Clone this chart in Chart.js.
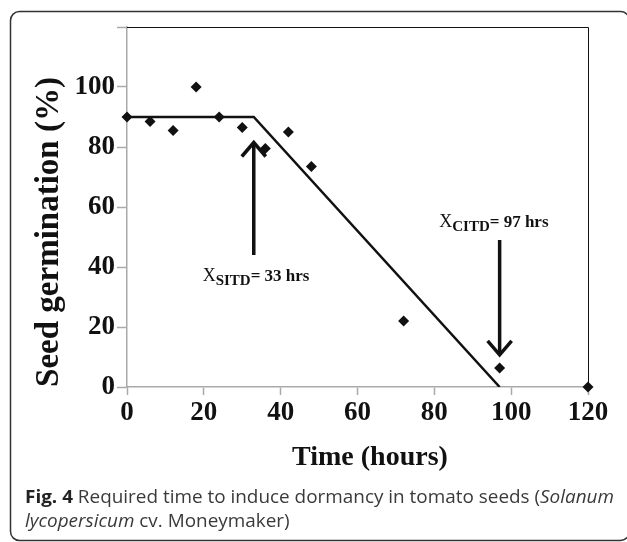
<!DOCTYPE html>
<html>
<head>
<meta charset="utf-8">
<script src="https://cdn.jsdelivr.net/npm/chart.js@4.4.0/dist/chart.umd.min.js"></script>
<style>
  html, body { margin: 0; padding: 0; background: #fff; }
  #wrap { position: relative; width: 627px; height: 542px; }
</style>
</head>
<body>
<div id="wrap"><canvas id="chart" width="627" height="542"></canvas></div>
<script>
// observed germination (%)
const hours = [0, 6, 12, 18, 24, 30, 36, 42, 48, 72, 97, 120];
const germination = [90, 88.5, 85.5, 100, 90, 86.5, 79.5, 85, 73.5, 22, 6.3, 0];

// fitted broken-line model
const fitHours = [0, 33, 97];
const fitValues = [90, 90, 0];

// axis ticks
const xTickValues = [0, 20, 40, 60, 80, 100, 120];
const yTickValues = [0, 20, 40, 60, 80, 100, 120];
const yTickHidden = [120];

// arrows + labels (data units)
const arrowX = [33, 97];
const arrowFrom = [44, 49];
const arrowTo = [81.5, 10.7];
const labelX = [33.6, 95.5];
const labelY = [35.3, 53.3];
const labelSub = ["SITD", "CITD"];
const labelRest = ["= 33 hrs", "= 97 hrs"];

const serif = '"Liberation Serif", "Times New Roman", serif';
const sans = '"Open Sans", "Noto Sans", sans-serif';

const pointData = hours.map((h, i) => ({ x: h, y: germination[i] }));
const fitData = fitHours.map((h, i) => ({ x: h, y: fitValues[i] }));

const extras = {
  id: "extras",
  beforeDraw(chart) {
    const ctx = chart.ctx;
    ctx.save();
    ctx.fillStyle = "#fff";
    ctx.fillRect(0, 0, chart.width, chart.height);
    // outer rounded frame (right side runs off the picture)
    ctx.strokeStyle = "#333";
    ctx.lineWidth = 1.5;
    ctx.beginPath();
    ctx.roundRect(10.5, 11.5, 619, 529, 9);
    ctx.stroke();
    ctx.restore();
  },
  beforeDatasetsDraw(chart) {
    const { ctx, chartArea: a } = chart;
    ctx.save();
    ctx.strokeStyle = "#111";
    ctx.lineWidth = 1;
    ctx.beginPath();
    ctx.moveTo(a.left, a.top + 0.5);
    ctx.lineTo(a.right + 0.5, a.top + 0.5);
    ctx.lineTo(a.right + 0.5, a.bottom);
    ctx.stroke();
    ctx.restore();
  },
  afterDraw(chart) {
    const { ctx } = chart;
    const xs = chart.scales.x, ys = chart.scales.y;
    ctx.save();
    ctx.fillStyle = "#111";

    // axis titles
    ctx.font = "bold 28px " + serif;
    ctx.textAlign = "center";
    ctx.textBaseline = "alphabetic";
    ctx.fillText("Time (hours)", 370, 465);

    ctx.save();
    ctx.translate(58, 232);
    ctx.rotate(-Math.PI / 2);
    ctx.font = "bold 33px " + serif;
    ctx.fillText("Seed germination (%)", 0, 0);
    ctx.restore();

    // arrows
    ctx.strokeStyle = "#111";
    ctx.lineWidth = 3.5;
    arrowX.forEach((xv, i) => {
      const px = xs.getPixelForValue(xv);
      const y0 = ys.getPixelForValue(arrowFrom[i]);
      const y1 = ys.getPixelForValue(arrowTo[i]);
      const dir = y1 < y0 ? 1 : -1;
      ctx.beginPath();
      ctx.moveTo(px, y0);
      ctx.lineTo(px, y1 + dir * 1.5);
      ctx.stroke();
      ctx.beginPath();
      ctx.moveTo(px - 12, y1 + dir * 14);
      ctx.lineTo(px, y1);
      ctx.lineTo(px + 12, y1 + dir * 14);
      ctx.stroke();
    });

    // X_SITD / X_CITD labels
    ctx.textAlign = "left";
    labelX.forEach((xv, i) => {
      const fX = "18px " + serif;
      const fS = "bold 15px " + serif;
      const fR = "bold 17px " + serif;
      ctx.font = fX; const wX = ctx.measureText("X").width;
      ctx.font = fS; const wS = ctx.measureText(labelSub[i]).width;
      ctx.font = fR; const wR = ctx.measureText(labelRest[i]).width;
      let px = xs.getPixelForValue(xv) - (wX + wS + wR) / 2;
      const by = ys.getPixelForValue(labelY[i]);
      ctx.font = fX; ctx.fillText("X", px, by); px += wX;
      ctx.font = fS; ctx.fillText(labelSub[i], px, by + 4); px += wS;
      ctx.font = fR; ctx.fillText(labelRest[i], px, by);
    });

    // caption
    const line1 = [
      { t: "Fig. 4", f: "bold", c: "#222" },
      { t: " Required time to induce dormancy in tomato seeds (", f: "", c: "#3a3a3a" },
      { t: "Solanum", f: "italic", c: "#3a3a3a" }
    ];
    const line2 = [
      { t: "lycopersicum", f: "italic", c: "#3a3a3a" },
      { t: " cv. Moneymaker)", f: "", c: "#3a3a3a" }
    ];
    const size = 18;
    const width = segs => segs.reduce((s, g) => {
      ctx.font = (g.f ? g.f + " " : "") + size + "px " + sans;
      return s + ctx.measureText(g.t).width;
    }, 0);
    const sx = 589 / width(line1);
    const drawLine = (segs, y) => {
      ctx.save();
      ctx.translate(25, y);
      ctx.scale(sx, 1);
      let x = 0;
      segs.forEach(g => {
        ctx.font = (g.f ? g.f + " " : "") + size + "px " + sans;
        ctx.fillStyle = g.c;
        ctx.fillText(g.t, x, 0);
        x += ctx.measureText(g.t).width;
      });
      ctx.restore();
    };
    drawLine(line1, 503);
    drawLine(line2, 527);
    ctx.restore();
  }
};

const tickFont = { family: serif, size: 27, weight: "bold" };

new Chart(document.getElementById("chart"), {
  type: "scatter",
  data: {
    datasets: [
      {
        label: "Fit",
        data: fitData,
        showLine: true,
        borderColor: "#111",
        borderWidth: 2.5,
        pointRadius: 0,
        tension: 0
      },
      {
        label: "Germination",
        data: pointData,
        pointStyle: "rectRot",
        pointRadius: 5.5,
        backgroundColor: "#111",
        borderColor: "#111",
        borderWidth: 0,
        clip: false
      }
    ]
  },
  options: {
    responsive: false,
    animation: false,
    devicePixelRatio: 1,
    layout: { padding: { top: 27, right: 39, left: 0, bottom: 0 } },
    plugins: { legend: { display: false }, tooltip: { enabled: false } },
    scales: {
      x: {
        type: "linear",
        min: xTickValues[0],
        max: xTickValues[xTickValues.length - 1],
        afterFit: s => { s.height = 155; },
        afterBuildTicks: s => { s.ticks = xTickValues.map(v => ({ value: v })); },
        ticks: { font: tickFont, color: "#111", padding: 2, maxRotation: 0 },
        grid: { drawOnChartArea: false, tickLength: 8, tickColor: "#aaa", tickWidth: 1.5 },
        border: { color: "#aaa", width: 1.5 }
      },
      y: {
        min: yTickValues[0],
        max: yTickValues[yTickValues.length - 1],
        afterFit: s => { s.width = 127; },
        afterBuildTicks: s => { s.ticks = yTickValues.map(v => ({ value: v })); },
        ticks: {
          font: tickFont, color: "#111", padding: 2,
          callback: v => (yTickHidden.includes(v) ? "" : v)
        },
        grid: { drawOnChartArea: false, tickLength: 10, tickColor: "#aaa", tickWidth: 1.5 },
        border: { color: "#aaa", width: 1.5 }
      }
    }
  },
  plugins: [extras]
});
</script>
</body>
</html>
